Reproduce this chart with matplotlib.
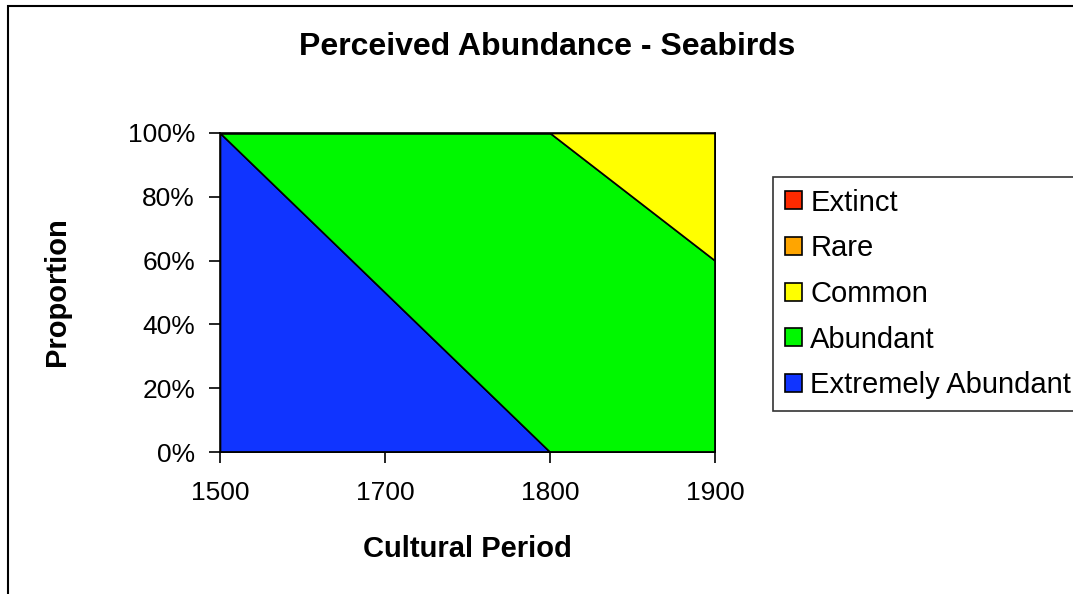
import matplotlib
matplotlib.use("Agg")
import matplotlib.pyplot as plt
from matplotlib.patches import Patch, Rectangle

periods = ["1500", "1700", "1800", "1900"]
series_names = ["Extremely Abundant", "Abundant", "Common", "Rare", "Extinct"]
extremely_abundant = [100, 50, 0, 0]
abundant = [0, 50, 100, 60]
common = [0, 0, 0, 40]
rare = [0, 0, 0, 0]
extinct = [0, 0, 0, 0]
colors = ["#1034FF", "#00F800", "#FFFF00", "#FFA500", "#FF2A00"]
y_ticks = [0, 20, 40, 60, 80, 100]
y_tick_labels = ["0%", "20%", "40%", "60%", "80%", "100%"]

plt.rcParams["font.family"] = ["Liberation Sans", "DejaVu Sans"]

fig = plt.figure(figsize=(10.73, 5.94), dpi=100)
fig.patches.append(Rectangle((8/1073, -0.1), 1.2, 1 - 6/594 + 0.1,
                             transform=fig.transFigure, fill=False,
                             edgecolor="black", linewidth=1.5))

ax = fig.add_axes([220/1073, 1 - 452/594, 495/1073, 319/594])
x = list(range(len(periods)))
ax.stackplot(x, extremely_abundant, abundant, common, rare, extinct,
             colors=colors, edgecolor="black", linewidth=1.2)
ax.set_xlim(0, len(periods) - 1)
ax.set_ylim(0, 100)
ax.set_xticks(x)
ax.set_xticklabels(periods)
ax.set_yticks(y_ticks)
ax.set_yticklabels(y_tick_labels)
ax.tick_params(axis="x", length=8, width=1.2, labelsize=19, pad=13)
ax.tick_params(axis="y", length=8, width=1.2, labelsize=19, pad=10)
for s in ax.spines.values():
    s.set_linewidth(1.2)

fig.text(547/1073, 1 - 47/594, "Perceived Abundance - Seabirds",
         ha="center", va="center", fontsize=23, fontweight="bold")
fig.text(467/1073, 1 - 549/594, "Cultural Period",
         ha="center", va="center", fontsize=21, fontweight="bold")
fig.text(57/1073, 1 - 292/594, "Proportion", rotation=90,
         ha="center", va="center", fontsize=21, fontweight="bold")

handles = [Patch(facecolor=c, edgecolor="black", linewidth=1.2) for c in colors]
leg = fig.legend(handles[::-1], series_names[::-1],
                 loc="upper left", bbox_to_anchor=(773/1073, 1 - 177/594),
                 fancybox=False, frameon=True, fontsize=21,
                 handlelength=0.58, handleheight=0.58, handletextpad=0.3,
                 labelspacing=0.605, borderpad=0.4, borderaxespad=0)
leg.get_frame().set_edgecolor("black")
leg.get_frame().set_linewidth(1.2)

fig.savefig("out.png", dpi=100)
